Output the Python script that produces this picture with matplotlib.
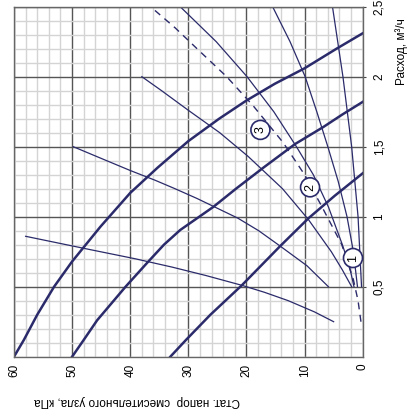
import matplotlib
matplotlib.use("Agg")
import matplotlib.pyplot as plt
from matplotlib.ticker import MultipleLocator, FixedLocator

plt.rcParams['font.family'] = ['Liberation Sans', 'DejaVu Sans']

# ---- data: flow q (m3/h) and static pressure p (kPa) ----
# pump curves (thick)
pumpA_q = [0, 0.12, 0.3, 0.5, 0.68, 0.93, 1.17, 1.35, 1.54, 1.7, 1.83, 1.95, 2.06, 2.2, 2.31]
pumpA_p = [60, 58.3, 56.0, 53.1, 50, 45.1, 40, 35.3, 30, 24.7, 20, 15.1, 10, 4.5, 0]
pumpB_q = [0, 0.12, 0.26, 0.5, 0.67, 0.8, 0.905, 1.07, 1.2, 1.35, 1.52, 1.64, 1.73, 1.82]
pumpB_p = [50, 48, 45.7, 40.8, 37.1, 34.2, 31.4, 25.7, 21.8, 17.1, 11.6, 6.8, 3.5, 0]
pumpC_q = [0, 0.12, 0.3, 0.51, 0.65, 0.79, 0.99, 1.15, 1.31]
pumpC_p = [33.1, 30.4, 26.2, 20.8, 17.5, 14.2, 9.3, 4.8, 0]

# system / valve curves (thin)
s1_q = [0.25, 0.32, 0.4, 0.46, 0.51, 0.58, 0.64, 0.70, 0.77, 0.86]
s1_p = [5.0, 8.3, 12.8, 16.9, 20.8, 27.0, 32.8, 39.2, 47.5, 58.0]
s2_q = [0.5, 0.65, 0.79, 0.9, 0.99, 1.05, 1.13, 1.2, 1.26, 1.33, 1.42, 1.5]
s2_p = [5.9, 9.6, 14.2, 17.9, 21.5, 24.5, 28.5, 32.3, 35.7, 40.0, 45.2, 49.8]
s3_q = [0.5, 0.62, 0.75, 0.98, 1.2, 1.43, 1.6, 1.76, 1.9, 2.0]
s3_p = [1.9, 3.5, 5.4, 9.35, 13.8, 19.7, 24.6, 30.0, 34.6, 38.0]
s4_q = [0.5, 0.65, 0.8, 1.07, 1.3, 1.5, 1.75, 2.0, 2.25, 2.5]
s4_p = [1.5, 2.3, 3.5, 5.9, 8.5, 11.4, 15.3, 19.9, 25.2, 31.4]
s5_q = [0.5, 0.75, 1.0, 1.25, 1.5, 1.75, 2.0, 2.25, 2.5]
s5_p = [0.9, 1.6, 2.7, 4.2, 6.0, 7.9, 9.9, 12.5, 15.5]
s6_q = [0.5, 1.0, 1.5, 2.0, 2.5]
s6_p = [0.2, 0.8, 1.9, 3.4, 5.2]
# dashed curve
d_q = [0.25, 0.4, 0.55, 0.8, 1.07, 1.3, 1.53, 1.79, 2.0, 2.18, 2.35, 2.5]
d_p = [0.3, 0.8, 1.6, 3.6, 7.0, 10.0, 13.7, 18.8, 23.4, 28.0, 32.3, 36.5]

# circled markers
mark_labels = ['1', '2', '3']
mark_q = [0.705, 1.21, 1.62]
mark_p = [1.67, 9.06, 17.6]

p_ticks = [0, 10, 20, 30, 40, 50, 60]
p_tick_labels = ['0', '10', '20', '30', '40', '50', '60']
q_ticks = [0.5, 1.0, 1.5, 2.0, 2.5]
q_tick_labels = ['0,5', '1', '1,5', '2', '2,5']

xlabel = 'Стат. напор  смесительного узла, кПа'
ylabel = 'Расход, м³/ч'

navy = '#2b2b6b'

W, H = 409, 418
fig = plt.figure(figsize=(W / 100, H / 100), dpi=100)
x0, x1 = 14, 362.7
y0, y1 = 356.7, 6.7
ax = fig.add_axes([x0 / W, (H - y0) / H, (x1 - x0) / W, (y0 - y1) / H])
ax.set_xlim(60, 0)
ax.set_ylim(0, 2.5)

ax.xaxis.set_major_locator(FixedLocator(p_ticks))
ax.xaxis.set_minor_locator(MultipleLocator(2))
ax.yaxis.set_major_locator(FixedLocator(q_ticks))
ax.yaxis.set_minor_locator(MultipleLocator(0.1))
ax.set_xticklabels(p_tick_labels)
ax.set_yticklabels(q_tick_labels)
ax.yaxis.tick_right()

ax.grid(which='minor', color='#d4d4d4', lw=1.0)
ax.grid(which='major', color='#555555', lw=1.0)
ax.set_axisbelow(True)
for s in ax.spines.values():
    s.set_color('#666666')
    s.set_linewidth(1.0)

ax.tick_params(axis='x', which='both', length=0, pad=5, labelrotation=90,
               labelsize=8.5, colors='black')
ax.tick_params(axis='y', which='major', length=2.5, width=0.8, pad=5,
               labelrotation=90, labelsize=8.5, color='#444444')
ax.tick_params(axis='y', which='minor', length=0)
for lab in ax.get_yticklabels():
    lab.set_va('center')

for q, p in [(pumpA_q, pumpA_p), (pumpB_q, pumpB_p), (pumpC_q, pumpC_p)]:
    ax.plot(p, q, color=navy, lw=1.8, solid_joinstyle='round')
for q, p in [(s1_q, s1_p), (s2_q, s2_p), (s3_q, s3_p), (s4_q, s4_p),
             (s5_q, s5_p), (s6_q, s6_p)]:
    ax.plot(p, q, color=navy, lw=0.9, solid_joinstyle='round')
ax.plot(d_p, d_q, color=navy, lw=1.0, dashes=(5, 4))

for lab, q, p in zip(mark_labels, mark_q, mark_p):
    ax.text(p, q, lab, rotation=90, ha='center', va='center', fontsize=9,
            color='black',
            bbox=dict(boxstyle='circle,pad=0.28', fc='white', ec=navy, lw=1.2),
            zorder=5)

fig.text(137 / W, 1 - 401 / H, xlabel, rotation=180, ha='center', va='center',
         fontsize=8.5)
fig.text(402 / W, 1 - 52 / H, ylabel, rotation=90, ha='center', va='center',
         fontsize=8.5)

fig.savefig('out.png', dpi=100)
